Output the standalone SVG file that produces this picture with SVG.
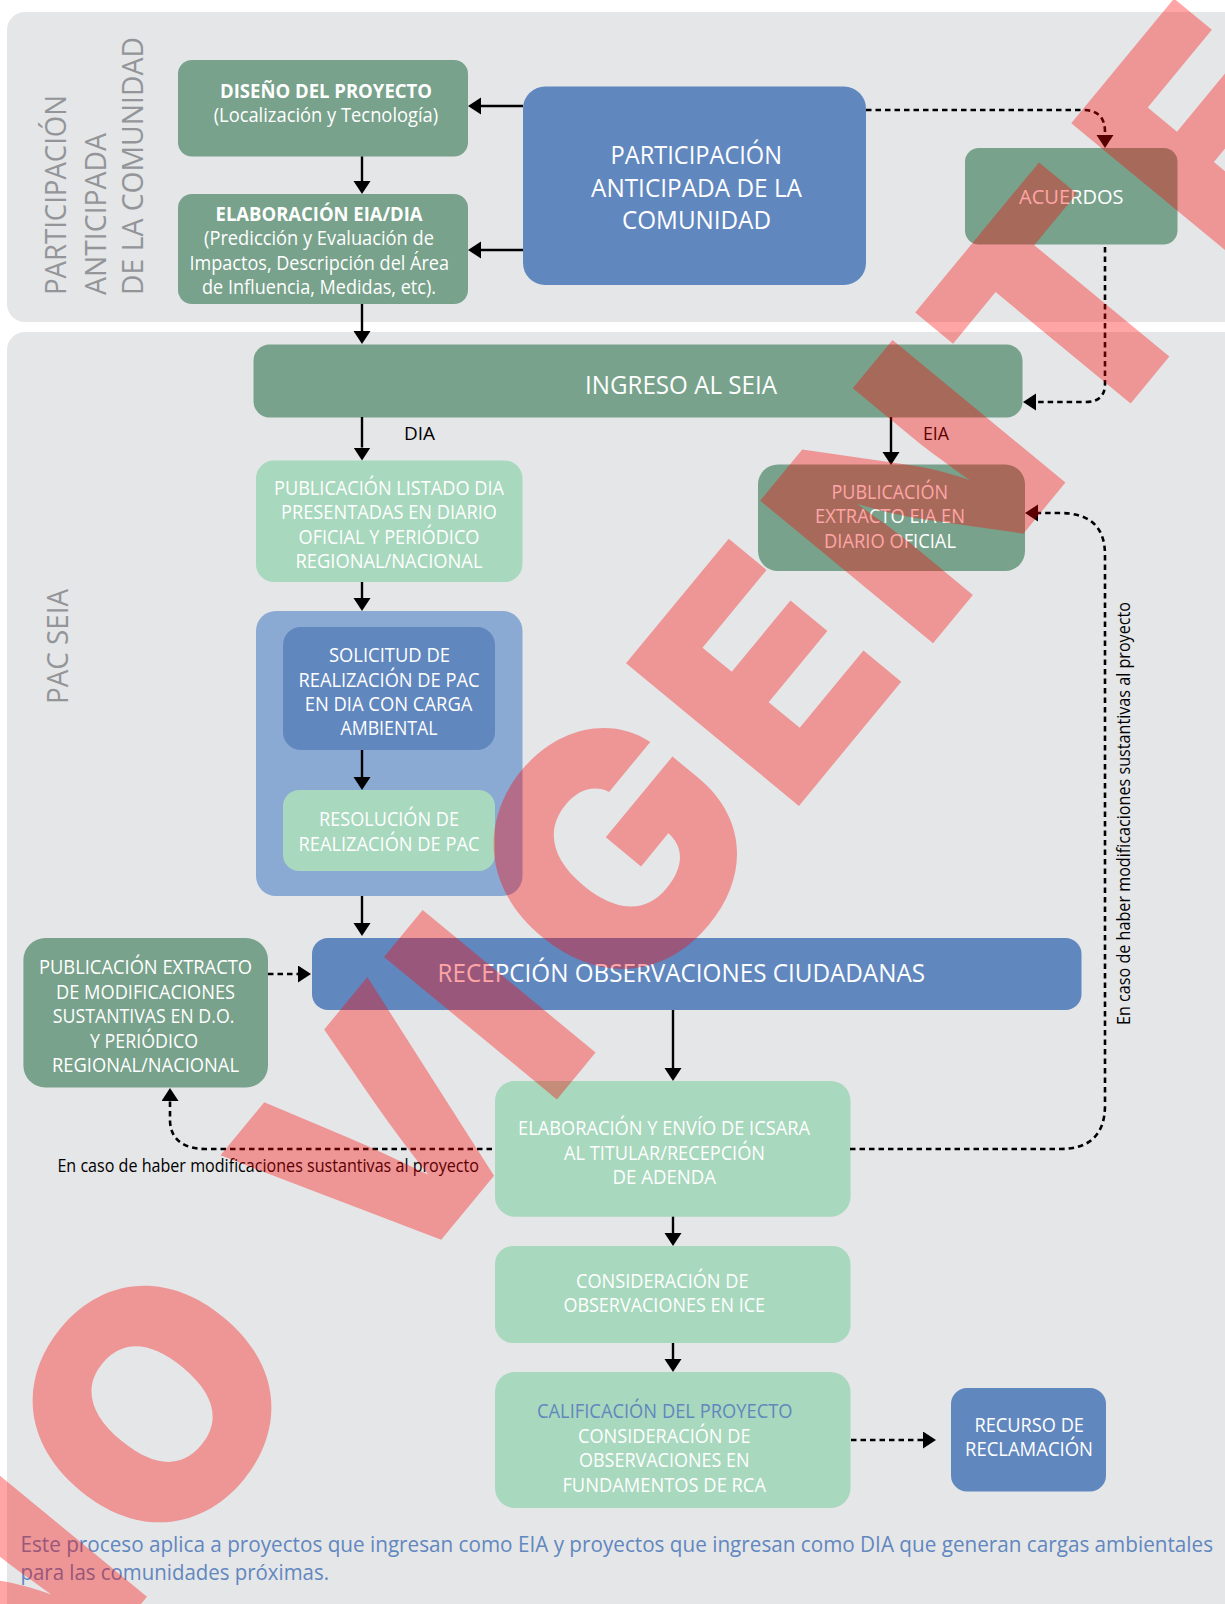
<svg xmlns="http://www.w3.org/2000/svg" width="1225" height="1604" viewBox="0 0 1225 1604">
<style>
text{font-family:"Open Sans","Liberation Sans",sans-serif;fill:#fff}
.t{font-size:19.5px}
.b{font-size:19.5px;font-weight:700}
.l{font-size:26px}
.k{font-size:18px;fill:#000}
.s{font-size:30px;fill:#939598}
.f{font-size:22px;fill:#6187bf}
.g{fill:#78a28b}
.m{fill:#a8d8bd}
.u{fill:#6187bf}
.p{fill:#e5e6e8}
.c{fill:none;stroke:#000;stroke-width:2.4;marker-end:url(#a)}
.d{fill:none;stroke:#000;stroke-width:2.6;stroke-dasharray:5.5 4;marker-end:url(#a)}
</style>
<defs>
<marker id="a" markerUnits="userSpaceOnUse" markerWidth="14" markerHeight="18" refX="0" refY="8.5" orient="auto"><path d="M0 0L13 8.5L0 17Z" fill="#000"/></marker>
</defs>
<rect width="1225" height="1604" fill="#fff"/>
<g id="panel-anticipada"><rect class="p" x="7" y="12" width="1240" height="310" rx="18"/>
<text class="s" transform="translate(66.4 295) rotate(-90)" textLength="200" lengthAdjust="spacingAndGlyphs">PARTICIPACIÓN</text>
<text class="s" transform="translate(105.5 295) rotate(-90)" textLength="162" lengthAdjust="spacingAndGlyphs">ANTICIPADA</text>
<text class="s" transform="translate(142.6 295) rotate(-90)" textLength="258" lengthAdjust="spacingAndGlyphs">DE LA COMUNIDAD</text>
</g>
<g id="panel-seia"><rect class="p" x="7" y="332" width="1240" height="1300" rx="18"/>
<text class="s" transform="translate(67.5 704) rotate(-90)" textLength="115" lengthAdjust="spacingAndGlyphs">PAC SEIA</text>
</g>
<g id="diseno"><rect class="g" x="178" y="60" width="290" height="96.5" rx="14"/>
<text class="b" x="220" y="98" textLength="212" lengthAdjust="spacingAndGlyphs">DISEÑO DEL PROYECTO</text>
<text class="t" x="213.7" y="121.7" textLength="224.5" lengthAdjust="spacingAndGlyphs">(Localización y Tecnología)</text></g>
<g id="elaboracion"><rect class="g" x="178" y="194" width="290" height="110" rx="14"/>
<text class="b" x="215.6" y="220.7" textLength="207" lengthAdjust="spacingAndGlyphs">ELABORACIÓN EIA/DIA</text>
<text class="t" x="204" y="245.2" textLength="230" lengthAdjust="spacingAndGlyphs">(Predicción y Evaluación de</text>
<text class="t" x="189.5" y="270" textLength="259.5" lengthAdjust="spacingAndGlyphs">Impactos, Descripción del Área</text>
<text class="t" x="202" y="294" textLength="234" lengthAdjust="spacingAndGlyphs">de Influencia, Medidas, etc).</text></g>
<g id="participacion"><rect class="u" x="523" y="86.5" width="343" height="198.500" rx="22"/>
<text class="l" x="610.5" y="164" textLength="171.500" lengthAdjust="spacingAndGlyphs">PARTICIPACIÓN</text>
<text class="l" x="591" y="197" textLength="211" lengthAdjust="spacingAndGlyphs">ANTICIPADA DE LA</text>
<text class="l" x="622" y="229" textLength="149" lengthAdjust="spacingAndGlyphs">COMUNIDAD</text></g>
<g id="acuerdos"><rect class="g" x="965" y="148" width="212.5" height="96.500" rx="14"/>
<text class="t" x="1019" y="204" textLength="104.500" lengthAdjust="spacingAndGlyphs">ACUERDOS</text></g>
<g id="ingreso"><rect class="g" x="253.5" y="344.500" width="769" height="73" rx="16"/>
<text class="l" x="585" y="394" textLength="192" lengthAdjust="spacingAndGlyphs">INGRESO AL SEIA</text></g>
<g id="pub-eia"><rect class="g" x="758" y="464.500" width="267" height="106.500" rx="20"/>
<text class="t" x="831.5" y="498.6" textLength="116.5" lengthAdjust="spacingAndGlyphs">PUBLICACIÓN</text>
<text class="t" x="815" y="523" textLength="150" lengthAdjust="spacingAndGlyphs">EXTRACTO EIA EN</text>
<text class="t" x="824" y="547.6" textLength="132" lengthAdjust="spacingAndGlyphs">DIARIO OFICIAL</text></g>
<g id="pub-dia"><rect class="m" x="256" y="460.5" width="266.5" height="121.5" rx="18"/>
<text class="t" x="274" y="495" textLength="230" lengthAdjust="spacingAndGlyphs">PUBLICACIÓN LISTADO DIA</text>
<text class="t" x="281" y="519" textLength="216" lengthAdjust="spacingAndGlyphs">PRESENTADAS EN DIARIO</text>
<text class="t" x="298.5" y="543.500" textLength="181" lengthAdjust="spacingAndGlyphs">OFICIAL Y PERIÓDICO</text>
<text class="t" x="295.5" y="568" textLength="187" lengthAdjust="spacingAndGlyphs">REGIONAL/NACIONAL</text></g>
<g id="pac-carga"><rect fill="#8aa9d3" x="256" y="611" width="266.5" height="285" rx="20"/></g>
<g id="solicitud"><rect class="u" x="283" y="627" width="212" height="123" rx="18"/>
<text class="t" x="329" y="662" textLength="121" lengthAdjust="spacingAndGlyphs">SOLICITUD DE</text>
<text class="t" x="298.5" y="686.5" textLength="181" lengthAdjust="spacingAndGlyphs">REALIZACIÓN DE PAC</text>
<text class="t" x="304.7" y="711" textLength="167.7" lengthAdjust="spacingAndGlyphs">EN DIA CON CARGA</text>
<text class="t" x="340.5" y="735" textLength="97" lengthAdjust="spacingAndGlyphs">AMBIENTAL</text></g>
<g id="resolucion"><rect class="m" x="283" y="790" width="212" height="81" rx="16"/>
<text class="t" x="319" y="826" textLength="140" lengthAdjust="spacingAndGlyphs">RESOLUCIÓN DE</text>
<text class="t" x="298.5" y="851" textLength="181" lengthAdjust="spacingAndGlyphs">REALIZACIÓN DE PAC</text></g>
<g id="recepcion"><rect class="u" x="312" y="938" width="769.500" height="72" rx="16"/>
<text class="l" x="437.6" y="981.7" textLength="487.4" lengthAdjust="spacingAndGlyphs">RECEPCIÓN OBSERVACIONES CIUDADANAS</text></g>
<g id="pub-extracto"><rect class="g" x="23.4" y="938" width="244.6" height="149.500" rx="22"/>
<text class="t" x="39" y="974" textLength="213" lengthAdjust="spacingAndGlyphs">PUBLICACIÓN EXTRACTO</text>
<text class="t" x="56" y="998.500" textLength="179" lengthAdjust="spacingAndGlyphs">DE MODIFICACIONES</text>
<text class="t" x="52.7" y="1023" textLength="181.7" lengthAdjust="spacingAndGlyphs">SUSTANTIVAS EN D.O.</text>
<text class="t" x="90" y="1047.500" textLength="108" lengthAdjust="spacingAndGlyphs">Y PERIÓDICO</text>
<text class="t" x="52" y="1071.7" textLength="187" lengthAdjust="spacingAndGlyphs">REGIONAL/NACIONAL</text></g>
<g id="icsara"><rect class="m" x="495" y="1081" width="355.500" height="135.7" rx="20"/>
<text class="t" x="518" y="1135.3" textLength="292" lengthAdjust="spacingAndGlyphs">ELABORACIÓN Y ENVÍO DE ICSARA</text>
<text class="t" x="564" y="1160" textLength="201" lengthAdjust="spacingAndGlyphs">AL TITULAR/RECEPCIÓN</text>
<text class="t" x="612.5" y="1184" textLength="103.5" lengthAdjust="spacingAndGlyphs">DE ADENDA</text></g>
<g id="consideracion"><rect class="m" x="495" y="1246" width="355.500" height="97" rx="18"/>
<text class="t" x="576" y="1287.500" textLength="172.5" lengthAdjust="spacingAndGlyphs">CONSIDERACIÓN DE</text>
<text class="t" x="563.4" y="1311.7" textLength="201.6" lengthAdjust="spacingAndGlyphs">OBSERVACIONES EN ICE</text></g>
<g id="calificacion"><rect class="m" x="495" y="1372" width="355.500" height="136" rx="20"/>
<text class="t" x="537" y="1418" textLength="255.5" lengthAdjust="spacingAndGlyphs" style="fill:#6187bf">CALIFICACIÓN DEL PROYECTO</text>
<text class="t" x="578" y="1442.7" textLength="172.5" lengthAdjust="spacingAndGlyphs">CONSIDERACIÓN DE</text>
<text class="t" x="579" y="1466.7" textLength="170.5" lengthAdjust="spacingAndGlyphs">OBSERVACIONES EN</text>
<text class="t" x="562.4" y="1491.500" textLength="203.6" lengthAdjust="spacingAndGlyphs">FUNDAMENTOS DE RCA</text></g>
<g id="recurso"><rect class="u" x="951" y="1388" width="155" height="103.500" rx="16"/>
<text class="t" x="974.5" y="1431.500" textLength="109.5" lengthAdjust="spacingAndGlyphs">RECURSO DE</text>
<text class="t" x="965" y="1455.500" textLength="128" lengthAdjust="spacingAndGlyphs">RECLAMACIÓN</text></g>
<g id="labels">
<text class="k" x="404" y="439.500" textLength="31" lengthAdjust="spacingAndGlyphs">DIA</text>
<text class="k" x="923" y="439.500" textLength="26" lengthAdjust="spacingAndGlyphs">EIA</text>
<text class="k" x="57.4" y="1172" textLength="421.6" lengthAdjust="spacingAndGlyphs">En caso de haber modificaciones sustantivas al proyecto</text>
<text class="k" transform="translate(1130 1025) rotate(-90)" textLength="423" lengthAdjust="spacingAndGlyphs">En caso de haber modificaciones sustantivas al proyecto</text>
<text class="f" x="20.5" y="1552.3" textLength="1192.5" lengthAdjust="spacingAndGlyphs">Este proceso aplica a proyectos que ingresan como EIA y proyectos que ingresan como DIA que generan cargas ambientales</text>
<text class="f" x="20.5" y="1580" textLength="308.5" lengthAdjust="spacingAndGlyphs">para las comunidades próximas.</text>
</g>
<g id="connectors">
<path class="c" d="M523 106H481"/>
<path class="c" d="M523 250H481"/>
<path class="c" d="M362 156.5V181"/>
<path class="c" d="M362 304V331"/>
<path class="c" d="M362 417V447.500"/>
<path class="c" d="M891 417V452"/>
<path class="c" d="M362 582V598"/>
<path class="c" d="M362 750V777"/>
<path class="c" d="M362 896V923"/>
<path class="c" d="M673 1010V1068"/>
<path class="c" d="M673 1216.700V1233"/>
<path class="c" d="M673 1343V1359"/>
<path class="d" d="M866 110H1083Q1105 110 1105 132V135"/>
<path class="d" d="M1105 247V384Q1105 402 1085 402H1036"/>
<path class="d" d="M851 1440H923"/>
<path class="d" d="M268 974H298"/>
<path class="d" d="M492 1149H205C185 1149 170 1140 170 1120V1101"/>
<path class="d" d="M850 1149H1060Q1105 1149 1105 1105V555Q1105 513 1060 513H1038"/>
</g>
<g id="watermark" opacity="0.35">
<text transform="translate(1150 380) rotate(-50.5)" x="-1681 -1425 -1250 -1074 -902 -705 -472 -237 0 228" y="0 -3 0 0 0 3 0 0 0 0" text-anchor="middle" style="font-family:Inter,'Open Sans',sans-serif;font-size:308px;font-weight:900;fill:#f00">N<tspan font-size="318">O</tspan> VI<tspan font-size="325">G</tspan>ENTE</text>
</g>
</svg>
